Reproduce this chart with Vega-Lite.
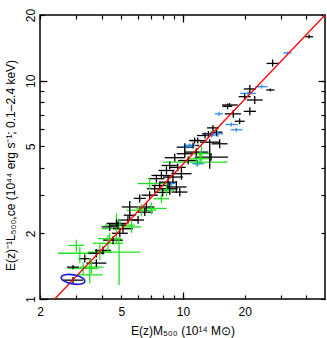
{
  "$schema": "https://vega.github.io/schema/vega-lite/v6.json",
  "width": 285,
  "height": 284,
  "autosize": "none",
  "padding": {"left": 40, "top": 15, "right": 2, "bottom": 39},
  "background": "#ffffff",
  "config": {
    "view": {"stroke": "#000000", "strokeWidth": 1.5},
    "font": "Liberation Sans",
    "axis": {"grid": false, "domain": false, "tickColor": "#000000", "tickWidth": 1.2, "labelColor": "#000000", "titleColor": "#000000", "labelFontSize": 12, "titleFontSize": 12, "titleFontWeight": "normal", "labelFlush": false, "labelOverlap": false, "labelFont": "Liberation Sans", "titleFont": "Liberation Sans"}
  },
  "datasets": {
    "pts": [
      {"g":"g","x":3.13,"y":1.62,"xl":2.45,"xh":3.92,"yl":1.46,"yh":1.73},
      {"g":"g","x":3.50,"y":1.29,"xl":3.02,"xh":4.05,"yl":1.18,"yh":1.54},
      {"g":"g","x":4.87,"y":1.64,"xl":3.78,"xh":6.19,"yl":1.16,"yh":1.9},
      {"g":"g","x":3.92,"y":1.64,"xl":3.42,"xh":4.49,"yl":1.51,"yh":1.78},
      {"g":"g","x":3.25,"y":1.38,"xl":2.74,"xh":3.85,"yl":1.3,"yh":1.47},
      {"g":"g","x":3.57,"y":1.40,"xl":3.12,"xh":4.09,"yl":1.31,"yh":1.49},
      {"g":"g","x":4.30,"y":1.80,"xl":3.63,"xh":5.09,"yl":1.65,"yh":1.96},
      {"g":"g","x":4.91,"y":2.18,"xl":4.15,"xh":5.81,"yl":2.05,"yh":2.32},
      {"g":"g","x":4.73,"y":2.10,"xl":4.0,"xh":5.6,"yl":1.79,"yh":2.46},
      {"g":"g","x":4.38,"y":1.89,"xl":3.83,"xh":5.01,"yl":1.78,"yh":2.01},
      {"g":"g","x":5.59,"y":2.14,"xl":5.0,"xh":6.25,"yl":2.01,"yh":2.28},
      {"g":"g","x":6.26,"y":2.55,"xl":5.29,"xh":7.41,"yl":2.39,"yh":2.72},
      {"g":"g","x":7.01,"y":2.60,"xl":5.92,"xh":8.3,"yl":2.44,"yh":2.77},
      {"g":"g","x":7.84,"y":2.88,"xl":7.17,"xh":8.58,"yl":2.74,"yh":3.03},
      {"g":"g","x":6.87,"y":3.38,"xl":6.0,"xh":8.32,"yl":3.18,"yh":3.6},
      {"g":"g","x":8.30,"y":3.15,"xl":7.59,"xh":9.08,"yl":2.96,"yh":3.35},
      {"g":"g","x":12.3,"y":4.63,"xl":11.0,"xh":13.8,"yl":4.26,"yh":5.04},
      {"g":"g","x":11.6,"y":4.24,"xl":7.96,"xh":16.5,"yl":4.07,"yh":4.42},
      {"g":"g","x":12.1,"y":4.39,"xl":10.5,"xh":13.8,"yl":4.12,"yh":4.68},
      {"g":"g","x":3.01,"y":1.76,"xl":2.75,"xh":3.29,"yl":1.65,"yh":1.87},
      {"g":"k","x":41.3,"y":15.9,"xl":39.5,"xh":43.2,"yl":15.6,"yh":16.3},
      {"g":"k","x":27.4,"y":12.0,"xl":25.6,"xh":29.3,"yl":11.6,"yh":12.5},
      {"g":"k","x":26.7,"y":9.07,"xl":25.5,"xh":28.0,"yl":8.95,"yh":9.2},
      {"g":"k","x":21.2,"y":9.17,"xl":19.8,"xh":22.7,"yl":8.79,"yh":9.56},
      {"g":"k","x":22.4,"y":8.16,"xl":20.5,"xh":24.5,"yl":7.82,"yh":8.51},
      {"g":"k","x":20.0,"y":8.45,"xl":18.7,"xh":21.4,"yl":8.19,"yh":8.72},
      {"g":"k","x":16.9,"y":7.74,"xl":15.5,"xh":18.5,"yl":7.58,"yh":7.9},
      {"g":"k","x":21.2,"y":7.24,"xl":19.8,"xh":22.7,"yl":6.94,"yh":7.55},
      {"g":"k","x":17.6,"y":7.05,"xl":16.0,"xh":19.2,"yl":6.76,"yh":7.35},
      {"g":"k","x":18.9,"y":6.52,"xl":17.9,"xh":20.0,"yl":6.32,"yh":6.73},
      {"g":"k","x":16.5,"y":7.63,"xl":15.6,"xh":17.4,"yl":7.4,"yh":7.87},
      {"g":"k","x":14.0,"y":6.08,"xl":13.1,"xh":15.0,"yl":5.89,"yh":6.27},
      {"g":"k","x":14.6,"y":5.81,"xl":13.6,"xh":15.6,"yl":5.57,"yh":6.06},
      {"g":"k","x":13.3,"y":5.71,"xl":12.4,"xh":14.2,"yl":5.53,"yh":5.89},
      {"g":"k","x":11.8,"y":5.32,"xl":10.8,"xh":12.95,"yl":5.16,"yh":5.49},
      {"g":"k","x":13.5,"y":5.23,"xl":12.1,"xh":15.1,"yl":3.95,"yh":5.4},
      {"g":"k","x":15.1,"y":5.14,"xl":13.8,"xh":16.5,"yl":4.9,"yh":5.4},
      {"g":"k","x":10.2,"y":4.96,"xl":9.31,"xh":11.15,"yl":4.76,"yh":5.17},
      {"g":"k","x":12.8,"y":5.61,"xl":11.7,"xh":14.0,"yl":5.44,"yh":5.79},
      {"g":"k","x":11.4,"y":5.32,"xl":10.7,"xh":12.2,"yl":5.16,"yh":5.49},
      {"g":"k","x":11.2,"y":5.05,"xl":10.5,"xh":12.0,"yl":4.89,"yh":5.21},
      {"g":"k","x":11.6,"y":4.71,"xl":10.2,"xh":13.3,"yl":4.52,"yh":4.91},
      {"g":"k","x":10.2,"y":4.63,"xl":9.31,"xh":11.15,"yl":4.44,"yh":4.83},
      {"g":"k","x":9.11,"y":4.44,"xl":8.14,"xh":10.2,"yl":4.26,"yh":4.63},
      {"g":"k","x":10.6,"y":4.31,"xl":9.46,"xh":11.8,"yl":4.13,"yh":4.5},
      {"g":"k","x":13.7,"y":4.47,"xl":11.4,"xh":16.6,"yl":4.3,"yh":4.65},
      {"g":"k","x":8.61,"y":4.09,"xl":7.87,"xh":9.42,"yl":3.92,"yh":4.27},
      {"g":"k","x":9.42,"y":4.01,"xl":8.6,"xh":10.3,"yl":3.85,"yh":4.18},
      {"g":"k","x":8.30,"y":3.88,"xl":7.59,"xh":9.08,"yl":3.72,"yh":4.05},
      {"g":"k","x":9.82,"y":3.75,"xl":8.78,"xh":11.0,"yl":3.52,"yh":3.99},
      {"g":"k","x":7.84,"y":3.68,"xl":7.01,"xh":8.77,"yl":3.53,"yh":3.84},
      {"g":"k","x":8.93,"y":3.62,"xl":7.98,"xh":9.99,"yl":3.4,"yh":3.86},
      {"g":"k","x":8.45,"y":3.43,"xl":7.72,"xh":9.24,"yl":3.22,"yh":3.65},
      {"g":"k","x":7.27,"y":3.20,"xl":6.65,"xh":7.95,"yl":3.07,"yh":3.34},
      {"g":"k","x":9.28,"y":3.26,"xl":8.29,"xh":10.4,"yl":3.06,"yh":3.47},
      {"g":"k","x":7.41,"y":3.56,"xl":6.77,"xh":8.11,"yl":3.41,"yh":3.71},
      {"g":"k","x":7.69,"y":3.31,"xl":7.03,"xh":8.41,"yl":3.17,"yh":3.45},
      {"g":"k","x":8.61,"y":3.20,"xl":7.87,"xh":9.42,"yl":3.0,"yh":3.41},
      {"g":"k","x":9.64,"y":3.09,"xl":8.8,"xh":10.5,"yl":2.95,"yh":3.23},
      {"g":"k","x":7.96,"y":3.08,"xl":7.28,"xh":8.7,"yl":2.95,"yh":3.22},
      {"g":"k","x":6.87,"y":2.99,"xl":6.28,"xh":7.52,"yl":2.87,"yh":3.12},
      {"g":"k","x":6.14,"y":2.89,"xl":5.74,"xh":6.57,"yl":2.77,"yh":3.01},
      {"g":"k","x":5.49,"y":2.64,"xl":5.02,"xh":6.01,"yl":2.48,"yh":2.81},
      {"g":"k","x":6.62,"y":2.64,"xl":6.05,"xh":7.24,"yl":2.53,"yh":2.75},
      {"g":"k","x":6.50,"y":2.50,"xl":5.94,"xh":7.11,"yl":2.4,"yh":2.61},
      {"g":"k","x":5.49,"y":2.42,"xl":5.13,"xh":5.87,"yl":2.32,"yh":2.52},
      {"g":"k","x":5.38,"y":2.30,"xl":4.81,"xh":6.02,"yl":2.21,"yh":2.4},
      {"g":"k","x":6.03,"y":2.30,"xl":5.64,"xh":6.45,"yl":2.21,"yh":2.4},
      {"g":"k","x":4.81,"y":2.18,"xl":4.4,"xh":5.26,"yl":2.09,"yh":2.27},
      {"g":"k","x":5.09,"y":2.10,"xl":4.55,"xh":5.7,"yl":2.01,"yh":2.19},
      {"g":"k","x":4.73,"y":2.22,"xl":4.23,"xh":5.29,"yl":2.13,"yh":2.32},
      {"g":"k","x":4.38,"y":2.14,"xl":4.0,"xh":4.79,"yl":2.05,"yh":2.23},
      {"g":"k","x":4.91,"y":2.00,"xl":4.49,"xh":5.37,"yl":1.92,"yh":2.09},
      {"g":"k","x":4.55,"y":1.86,"xl":4.07,"xh":5.09,"yl":1.78,"yh":1.94},
      {"g":"k","x":4.06,"y":1.67,"xl":3.71,"xh":4.44,"yl":1.6,"yh":1.74},
      {"g":"k","x":3.77,"y":1.62,"xl":3.45,"xh":4.12,"yl":1.55,"yh":1.69},
      {"g":"k","x":3.31,"y":1.53,"xl":3.09,"xh":3.54,"yl":1.47,"yh":1.6},
      {"g":"k","x":3.77,"y":1.46,"xl":3.37,"xh":4.22,"yl":1.4,"yh":1.52},
      {"g":"k","x":2.90,"y":1.40,"xl":2.71,"xh":3.10,"yl":1.37,"yh":1.43},
      {"g":"k","x":2.90,"y":1.22,"xl":2.59,"xh":3.25,"yl":1.18,"yh":1.26},
      {"g":"b","x":32.4,"y":13.4,"xl":30.9,"xh":33.9,"yl":13.2,"yh":13.6},
      {"g":"b","x":24.2,"y":9.39,"xl":22.6,"xh":25.9,"yl":9.2,"yh":9.59},
      {"g":"b","x":20.8,"y":8.75,"xl":19.0,"xh":22.7,"yl":8.57,"yh":8.93},
      {"g":"b","x":15.0,"y":7.05,"xl":14.3,"xh":15.7,"yl":6.9,"yh":7.2},
      {"g":"b","x":17.2,"y":6.30,"xl":16.1,"xh":18.5,"yl":6.17,"yh":6.43},
      {"g":"b","x":18.2,"y":5.96,"xl":17.1,"xh":19.5,"yl":5.84,"yh":6.08},
      {"g":"b","x":14.8,"y":5.71,"xl":14.0,"xh":15.7,"yl":5.53,"yh":5.89},
      {"g":"b","x":13.8,"y":5.64,"xl":13.0,"xh":14.6,"yl":5.5,"yh":5.78},
      {"g":"b","x":10.8,"y":5.05,"xl":10.1,"xh":11.6,"yl":4.95,"yh":5.15},
      {"g":"b","x":10.4,"y":4.99,"xl":9.82,"xh":11.0,"yl":4.89,"yh":5.09},
      {"g":"b","x":11.8,"y":4.17,"xl":11.1,"xh":12.7,"yl":4.05,"yh":4.3},
      {"g":"b","x":8.78,"y":3.38,"xl":8.39,"xh":9.18,"yl":3.31,"yh":3.45}
    ],
    "fit": [{"x": 2.36, "y": 1.0}, {"x": 49.4, "y": 20.0}],
    "ell": [{"x": 2.90, "y": 1.23}]
  },
  "layer": [
    {
      "data": {"name": "pts"},
      "mark": {"type": "rule", "strokeWidth": 1.3},
      "encoding": {
        "x": {"field": "xl", "type": "quantitative", "scale": {"type": "log", "domain": [2, 49.4], "nice": false, "zero": false},
          "axis": {"orient": "bottom", "values": [2,3,4,5,6,7,8,9,10,20,30,40], "tickSize": -4, "labelExpr": "indexof([2,5,10,20], datum.value) >= 0 ? format(datum.value, 'd') : ''", "labelPadding": 11, "labelBaseline": "top", "labelAlign": "center", "title": "E(z)M₅₀₀ (10¹⁴ M⊙)", "titleY": 31, "titleBaseline": "middle"}},
        "x2": {"field": "xh"},
        "y": {"field": "y", "type": "quantitative", "scale": {"type": "log", "domain": [1, 20], "nice": false, "zero": false},
          "axis": {"orient": "left", "values": [1,2,3,4,5,6,7,8,9,10,20], "tickSize": -4, "labelExpr": "indexof([1,2,5,10,20], datum.value) >= 0 ? format(datum.value, 'd') : ''", "labelAngle": -90, "labelAlign": "center", "labelBaseline": "bottom", "labelPadding": 7, "title": "E(z)⁻¹L₅₀₀,ce (10⁴⁴ erg s⁻¹; 0.1–2.4 keV)", "titleX": -30, "titleY": 150, "titleAngle": -90, "titleBaseline": "middle", "titleAlign": "center"}},
        "color": {"field": "g", "type": "nominal", "scale": {"domain": ["k", "g", "b"], "range": ["#000000", "#1ee31e", "#2f8ff0"]}, "legend": null}
      }
    },
    {
      "data": {"name": "pts"},
      "mark": {"type": "rule", "strokeWidth": 1.3},
      "encoding": {
        "x": {"field": "x", "type": "quantitative", "scale": {"type": "log", "domain": [2, 49.4], "nice": false, "zero": false},
          "axis": {"orient": "top", "values": [2,3,4,5,6,7,8,9,10,20,30,40], "tickSize": -4, "labels": false, "title": null}},
        "y": {"field": "yl", "type": "quantitative", "scale": {"type": "log", "domain": [1, 20], "nice": false, "zero": false},
          "axis": {"orient": "right", "values": [1,2,3,4,5,6,7,8,9,10,20], "tickSize": -4, "labels": false, "title": null}},
        "y2": {"field": "yh"},
        "color": {"field": "g", "type": "nominal", "legend": null}
      }
    },
    {
      "data": {"name": "fit"},
      "mark": {"type": "line", "color": "#ff0000", "strokeWidth": 1.3, "clip": true},
      "encoding": {
        "x": {"field": "x", "type": "quantitative", "axis": {"orient": "bottom", "values": [10], "tickSize": -7, "labels": false, "title": null}},
        "y": {"field": "y", "type": "quantitative", "axis": {"orient": "left", "values": [1, 10], "tickSize": -7, "labels": false, "title": null}}
      }
    },
    {
      "data": {"name": "ell"},
      "mark": {"type": "point", "shape": "M-1,0A1,0.38,0,1,0,1,0A1,0.38,0,1,0,-1,0Z", "size": 576, "angle": 10, "filled": false, "stroke": "#1a1ae0", "strokeWidth": 1.6, "opacity": 1},
      "encoding": {
        "x": {"field": "x", "type": "quantitative", "axis": {"orient": "top", "values": [10], "tickSize": -7, "labels": false, "title": null}},
        "y": {"field": "y", "type": "quantitative", "axis": {"orient": "right", "values": [10], "tickSize": -7, "labels": false, "title": null}}
      }
    }
  ],
  "resolve": {"axis": {"x": "independent", "y": "independent"}}
}
